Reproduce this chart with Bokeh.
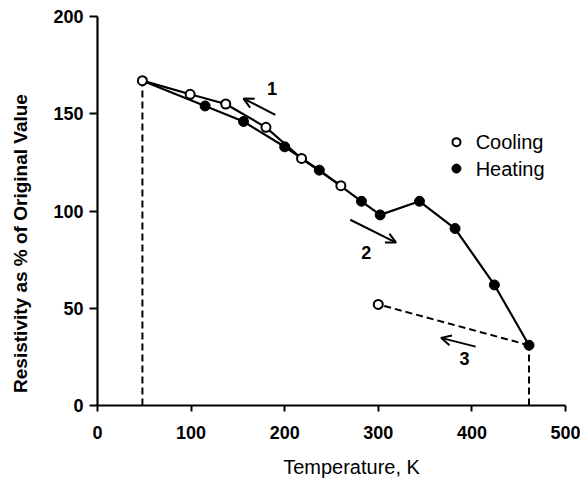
from bokeh.plotting import figure
from bokeh.models import Range1d, Label, Arrow, OpenHead, FixedTicker
from bokeh.embed import file_html
from bokeh.resources import INLINE
from bokeh.core.properties import value

# ---- data ----
cool_T = [48, 99, 137, 180, 218, 260]
cool_R = [167, 160, 155, 143, 127, 113]
heat_T = [115, 156, 200, 237, 282, 302, 344, 382, 424, 461]
heat_R = [154, 146, 133, 121, 105, 98, 105, 91, 62, 31]
recool_T = [461, 300]
recool_R = [31, 52]
x_ticks = [0, 100, 200, 300, 400, 500]
y_ticks = [0, 50, 100, 150, 200]
legend_labels = ["Cooling", "Heating"]

# ---- annotation placement (layout) ----
legend_x, legend_text_x = 383.5, 404
legend_y = [135.4, 121.8]
arrows = [  # (x_start, y_start, x_end, y_end)
    (190, 149.4, 156, 157.8),
    (270, 95.5, 319, 83.8),
    (404, 30.3, 367, 34.8),
]
arrow_labels = [("1", 186.5, 162.8), ("2", 287, 78.7), ("3", 392, 24.3)]

FONT = "Liberation Sans"

# frame fills the whole canvas; axes are pinned at 0
p = figure(width=580, height=479, output_backend="svg", toolbar_location=None,
           x_range=Range1d(-103.6, 516.0), y_range=Range1d(-38.0, 208.2),
           min_border=0)
p.outline_line_color = None
p.xgrid.grid_line_color = None
p.ygrid.grid_line_color = None
p.background_fill_color = "white"
p.border_fill_color = "white"

for ax, ticks, bnds in ((p.xaxis, x_ticks, (0, 500)), (p.yaxis, y_ticks, (0, 200))):
    ax.ticker = FixedTicker(ticks=ticks)
    ax.bounds = bnds
    ax.fixed_location = 0
    ax.minor_tick_line_color = None
    ax.major_tick_in = 0
    ax.axis_line_width = 2.2
    ax.axis_line_color = "black"
    ax.major_tick_line_width = 2
    ax.major_tick_line_color = "black"
    ax.major_label_text_font = FONT
    ax.major_label_text_font_style = "bold"
    ax.major_label_text_font_size = "18px"
    ax.major_label_text_color = "black"
p.xaxis.major_tick_out = 6
p.xaxis.major_label_standoff = 14
p.yaxis.major_tick_out = 8
p.yaxis.major_label_standoff = 6

# dashed verticals and recooling line
p.line([cool_T[0], cool_T[0]], [0, cool_R[0]], line_color="black",
       line_width=2, line_dash="7 4")
p.line([heat_T[-1], heat_T[-1]], [0, heat_R[-1]], line_color="black",
       line_width=2, line_dash="7 4")
p.line(recool_T, recool_R, line_color="black", line_width=2, line_dash="7 4")

# curves
p.line(cool_T, cool_R, line_color="black", line_width=2.2)
p.line([cool_T[0]] + heat_T, [cool_R[0]] + heat_R, line_color="black",
       line_width=2.2)

# markers
p.scatter(heat_T, heat_R, size=10, fill_color="black", line_color="black")
p.scatter(cool_T, cool_R, size=9, fill_color="white", line_color="black",
          line_width=2)
p.scatter(recool_T[1:], recool_R[1:], size=9, fill_color="white",
          line_color="black", line_width=2)

# legend
p.scatter([legend_x], [legend_y[0]], size=8, fill_color="white",
          line_color="black", line_width=2)
p.scatter([legend_x], [legend_y[1]], size=9, fill_color="black",
          line_color="black")
p.text([legend_text_x] * 2, legend_y, text=legend_labels,
       text_font=value(FONT), text_font_size="20px", text_baseline="middle",
       text_align="left", text_color="black")

# arrows
for xs, ys, xe, ye in arrows:
    p.add_layout(Arrow(end=OpenHead(size=10, line_width=2, line_color="black"),
                       x_start=xs, y_start=ys, x_end=xe, y_end=ye,
                       line_width=2, line_color="black"))
for t, x, y in arrow_labels:
    p.add_layout(Label(x=x, y=y, text=t, text_font=FONT, text_font_size="18px",
                       text_font_style="bold", text_align="center",
                       text_baseline="middle", text_color="black"))

# axis titles
p.add_layout(Label(x=-82.3, y=83.3, text="Resistivity as % of Original Value",
                   angle=90, angle_units="deg", text_font=FONT,
                   text_font_size="19px", text_font_style="bold",
                   text_align="center", text_baseline="middle",
                   text_color="black"))
p.add_layout(Label(x=271.4, y=-31.4, text="Temperature, K", text_font=FONT,
                   text_font_size="20px", text_align="center",
                   text_baseline="middle", text_color="black"))

open("out.html", "w").write(file_html(p, INLINE))
